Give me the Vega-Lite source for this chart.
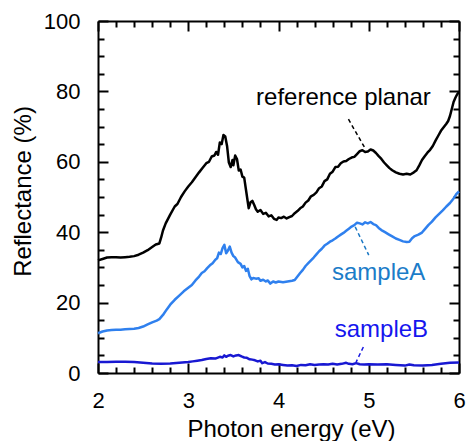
{
  "$schema": "https://vega.github.io/schema/vega-lite/v6.json",
  "width": 361,
  "height": 352,
  "autosize": "none",
  "padding": {"left": 98, "top": 21, "right": 10, "bottom": 68},
  "background": "white",
  "config": {
    "view": {"stroke": null},
    "axis": {
      "grid": false,
      "domainColor": "black",
      "tickColor": "black",
      "tickWidth": 2,
      "domainWidth": 2,
      "labelFont": "Liberation Sans",
      "titleFont": "Liberation Sans",
      "labelColor": "black",
      "titleColor": "black",
      "labelFontSize": 22,
      "titleFontSize": 24,
      "titleFontWeight": "normal"
    }
  },
  "datasets": {
    "planar": [
      {"series":"reference planar","E":2.00,"R":32.0},{"series":"reference planar","E":2.05,"R":32.4},{"series":"reference planar","E":2.10,"R":32.8},{"series":"reference planar","E":2.15,"R":32.9},{"series":"reference planar","E":2.20,"R":32.9},{"series":"reference planar","E":2.25,"R":32.8},{"series":"reference planar","E":2.30,"R":32.9},{"series":"reference planar","E":2.35,"R":33.0},{"series":"reference planar","E":2.40,"R":33.2},{"series":"reference planar","E":2.45,"R":33.6},{"series":"reference planar","E":2.50,"R":34.2},{"series":"reference planar","E":2.55,"R":34.9},{"series":"reference planar","E":2.60,"R":35.8},{"series":"reference planar","E":2.64,"R":36.5},{"series":"reference planar","E":2.68,"R":36.8},{"series":"reference planar","E":2.70,"R":38.5},{"series":"reference planar","E":2.72,"R":40.5},{"series":"reference planar","E":2.75,"R":42.5},{"series":"reference planar","E":2.80,"R":45.0},{"series":"reference planar","E":2.85,"R":47.3},{"series":"reference planar","E":2.88,"R":48.0},{"series":"reference planar","E":2.92,"R":50.0},{"series":"reference planar","E":2.96,"R":51.6},{"series":"reference planar","E":3.00,"R":53.0},{"series":"reference planar","E":3.04,"R":54.2},{"series":"reference planar","E":3.08,"R":55.6},{"series":"reference planar","E":3.12,"R":57.0},{"series":"reference planar","E":3.16,"R":58.3},{"series":"reference planar","E":3.20,"R":59.6},{"series":"reference planar","E":3.23,"R":60.0},{"series":"reference planar","E":3.26,"R":61.5},{"series":"reference planar","E":3.29,"R":61.8},{"series":"reference planar","E":3.31,"R":62.8},{"series":"reference planar","E":3.33,"R":62.0},{"series":"reference planar","E":3.35,"R":65.5},{"series":"reference planar","E":3.37,"R":65.0},{"series":"reference planar","E":3.39,"R":67.6},{"series":"reference planar","E":3.41,"R":67.2},{"series":"reference planar","E":3.43,"R":64.5},{"series":"reference planar","E":3.45,"R":59.8},{"series":"reference planar","E":3.47,"R":58.5},{"series":"reference planar","E":3.49,"R":60.5},{"series":"reference planar","E":3.50,"R":59.0},{"series":"reference planar","E":3.52,"R":61.8},{"series":"reference planar","E":3.54,"R":60.8},{"series":"reference planar","E":3.56,"R":57.5},{"series":"reference planar","E":3.58,"R":57.8},{"series":"reference planar","E":3.60,"R":55.8},{"series":"reference planar","E":3.62,"R":55.5},{"series":"reference planar","E":3.64,"R":52.0},{"series":"reference planar","E":3.66,"R":48.5},{"series":"reference planar","E":3.67,"R":46.8},{"series":"reference planar","E":3.69,"R":48.5},{"series":"reference planar","E":3.71,"R":48.9},{"series":"reference planar","E":3.73,"R":47.8},{"series":"reference planar","E":3.75,"R":46.5},{"series":"reference planar","E":3.77,"R":45.8},{"series":"reference planar","E":3.80,"R":46.3},{"series":"reference planar","E":3.83,"R":45.2},{"series":"reference planar","E":3.86,"R":45.5},{"series":"reference planar","E":3.89,"R":44.5},{"series":"reference planar","E":3.92,"R":44.8},{"series":"reference planar","E":3.95,"R":43.8},{"series":"reference planar","E":3.98,"R":43.5},{"series":"reference planar","E":4.00,"R":44.2},{"series":"reference planar","E":4.03,"R":44.0},{"series":"reference planar","E":4.06,"R":44.4},{"series":"reference planar","E":4.09,"R":43.9},{"series":"reference planar","E":4.12,"R":44.3},{"series":"reference planar","E":4.15,"R":44.6},{"series":"reference planar","E":4.18,"R":45.4},{"series":"reference planar","E":4.21,"R":46.0},{"series":"reference planar","E":4.24,"R":46.8},{"series":"reference planar","E":4.27,"R":47.3},{"series":"reference planar","E":4.30,"R":48.4},{"series":"reference planar","E":4.33,"R":49.0},{"series":"reference planar","E":4.36,"R":50.2},{"series":"reference planar","E":4.39,"R":50.6},{"series":"reference planar","E":4.42,"R":51.3},{"series":"reference planar","E":4.45,"R":52.5},{"series":"reference planar","E":4.48,"R":53.0},{"series":"reference planar","E":4.51,"R":54.5},{"series":"reference planar","E":4.54,"R":55.0},{"series":"reference planar","E":4.57,"R":56.6},{"series":"reference planar","E":4.60,"R":57.2},{"series":"reference planar","E":4.63,"R":58.5},{"series":"reference planar","E":4.66,"R":58.6},{"series":"reference planar","E":4.69,"R":59.6},{"series":"reference planar","E":4.72,"R":60.1},{"series":"reference planar","E":4.75,"R":60.2},{"series":"reference planar","E":4.78,"R":60.8},{"series":"reference planar","E":4.81,"R":61.2},{"series":"reference planar","E":4.84,"R":61.4},{"series":"reference planar","E":4.87,"R":62.2},{"series":"reference planar","E":4.90,"R":63.0},{"series":"reference planar","E":4.93,"R":63.3},{"series":"reference planar","E":4.96,"R":62.8},{"series":"reference planar","E":4.99,"R":62.9},{"series":"reference planar","E":5.02,"R":63.5},{"series":"reference planar","E":5.05,"R":63.2},{"series":"reference planar","E":5.08,"R":62.5},{"series":"reference planar","E":5.11,"R":61.6},{"series":"reference planar","E":5.14,"R":60.8},{"series":"reference planar","E":5.17,"R":59.8},{"series":"reference planar","E":5.20,"R":59.0},{"series":"reference planar","E":5.23,"R":58.2},{"series":"reference planar","E":5.26,"R":57.6},{"series":"reference planar","E":5.30,"R":57.0},{"series":"reference planar","E":5.34,"R":56.6},{"series":"reference planar","E":5.38,"R":56.4},{"series":"reference planar","E":5.42,"R":56.6},{"series":"reference planar","E":5.46,"R":56.4},{"series":"reference planar","E":5.50,"R":57.0},{"series":"reference planar","E":5.53,"R":57.6},{"series":"reference planar","E":5.56,"R":59.0},{"series":"reference planar","E":5.59,"R":60.5},{"series":"reference planar","E":5.62,"R":61.6},{"series":"reference planar","E":5.65,"R":62.6},{"series":"reference planar","E":5.68,"R":63.4},{"series":"reference planar","E":5.71,"R":64.5},{"series":"reference planar","E":5.74,"R":66.0},{"series":"reference planar","E":5.77,"R":67.4},{"series":"reference planar","E":5.80,"R":68.8},{"series":"reference planar","E":5.83,"R":69.8},{"series":"reference planar","E":5.86,"R":70.8},{"series":"reference planar","E":5.88,"R":71.6},{"series":"reference planar","E":5.90,"R":73.0},{"series":"reference planar","E":5.92,"R":75.0},{"series":"reference planar","E":5.94,"R":77.0},{"series":"reference planar","E":5.96,"R":78.2},{"series":"reference planar","E":5.98,"R":79.2},{"series":"reference planar","E":6.00,"R":79.8}
    ],
    "samples": [
      {"series":"sampleA","E":2.00,"R":11.3},{"series":"sampleA","E":2.05,"R":11.8},{"series":"sampleA","E":2.10,"R":12.1},{"series":"sampleA","E":2.15,"R":12.2},{"series":"sampleA","E":2.20,"R":12.3},{"series":"sampleA","E":2.25,"R":12.3},{"series":"sampleA","E":2.30,"R":12.4},{"series":"sampleA","E":2.35,"R":12.5},{"series":"sampleA","E":2.40,"R":12.6},{"series":"sampleA","E":2.45,"R":12.8},{"series":"sampleA","E":2.50,"R":13.2},{"series":"sampleA","E":2.55,"R":13.8},{"series":"sampleA","E":2.60,"R":14.4},{"series":"sampleA","E":2.65,"R":14.9},{"series":"sampleA","E":2.68,"R":15.3},{"series":"sampleA","E":2.72,"R":16.5},{"series":"sampleA","E":2.76,"R":18.0},{"series":"sampleA","E":2.80,"R":19.4},{"series":"sampleA","E":2.85,"R":20.8},{"series":"sampleA","E":2.90,"R":22.0},{"series":"sampleA","E":2.95,"R":23.2},{"series":"sampleA","E":3.00,"R":24.2},{"series":"sampleA","E":3.04,"R":25.0},{"series":"sampleA","E":3.08,"R":26.3},{"series":"sampleA","E":3.12,"R":27.4},{"series":"sampleA","E":3.15,"R":28.4},{"series":"sampleA","E":3.18,"R":28.9},{"series":"sampleA","E":3.21,"R":29.8},{"series":"sampleA","E":3.24,"R":30.6},{"series":"sampleA","E":3.27,"R":31.2},{"series":"sampleA","E":3.30,"R":32.2},{"series":"sampleA","E":3.32,"R":32.6},{"series":"sampleA","E":3.34,"R":34.2},{"series":"sampleA","E":3.36,"R":33.8},{"series":"sampleA","E":3.38,"R":35.5},{"series":"sampleA","E":3.40,"R":36.4},{"series":"sampleA","E":3.42,"R":34.0},{"series":"sampleA","E":3.44,"R":34.8},{"series":"sampleA","E":3.46,"R":35.9},{"series":"sampleA","E":3.48,"R":34.2},{"series":"sampleA","E":3.50,"R":33.2},{"series":"sampleA","E":3.52,"R":32.8},{"series":"sampleA","E":3.55,"R":31.5},{"series":"sampleA","E":3.58,"R":31.0},{"series":"sampleA","E":3.60,"R":30.0},{"series":"sampleA","E":3.62,"R":30.4},{"series":"sampleA","E":3.64,"R":29.0},{"series":"sampleA","E":3.66,"R":29.6},{"series":"sampleA","E":3.68,"R":27.5},{"series":"sampleA","E":3.70,"R":26.6},{"series":"sampleA","E":3.72,"R":27.0},{"series":"sampleA","E":3.75,"R":26.8},{"series":"sampleA","E":3.78,"R":26.9},{"series":"sampleA","E":3.80,"R":26.2},{"series":"sampleA","E":3.83,"R":26.5},{"series":"sampleA","E":3.86,"R":26.0},{"series":"sampleA","E":3.88,"R":26.3},{"series":"sampleA","E":3.91,"R":25.4},{"series":"sampleA","E":3.94,"R":26.0},{"series":"sampleA","E":3.97,"R":25.7},{"series":"sampleA","E":4.00,"R":26.0},{"series":"sampleA","E":4.05,"R":25.8},{"series":"sampleA","E":4.10,"R":26.0},{"series":"sampleA","E":4.15,"R":26.2},{"series":"sampleA","E":4.18,"R":26.4},{"series":"sampleA","E":4.21,"R":27.4},{"series":"sampleA","E":4.24,"R":28.4},{"series":"sampleA","E":4.27,"R":29.3},{"series":"sampleA","E":4.30,"R":30.4},{"series":"sampleA","E":4.33,"R":31.2},{"series":"sampleA","E":4.36,"R":32.0},{"series":"sampleA","E":4.39,"R":32.8},{"series":"sampleA","E":4.42,"R":33.7},{"series":"sampleA","E":4.45,"R":34.6},{"series":"sampleA","E":4.48,"R":35.3},{"series":"sampleA","E":4.51,"R":36.2},{"series":"sampleA","E":4.54,"R":36.7},{"series":"sampleA","E":4.57,"R":37.3},{"series":"sampleA","E":4.60,"R":37.7},{"series":"sampleA","E":4.63,"R":38.2},{"series":"sampleA","E":4.66,"R":38.8},{"series":"sampleA","E":4.69,"R":39.3},{"series":"sampleA","E":4.72,"R":39.8},{"series":"sampleA","E":4.75,"R":40.4},{"series":"sampleA","E":4.78,"R":41.0},{"series":"sampleA","E":4.81,"R":41.6},{"series":"sampleA","E":4.84,"R":42.0},{"series":"sampleA","E":4.87,"R":42.7},{"series":"sampleA","E":4.90,"R":42.5},{"series":"sampleA","E":4.93,"R":42.2},{"series":"sampleA","E":4.96,"R":42.8},{"series":"sampleA","E":4.99,"R":42.5},{"series":"sampleA","E":5.02,"R":42.9},{"series":"sampleA","E":5.05,"R":42.3},{"series":"sampleA","E":5.08,"R":42.0},{"series":"sampleA","E":5.11,"R":41.2},{"series":"sampleA","E":5.14,"R":40.6},{"series":"sampleA","E":5.18,"R":40.0},{"series":"sampleA","E":5.22,"R":39.4},{"series":"sampleA","E":5.26,"R":38.8},{"series":"sampleA","E":5.30,"R":38.2},{"series":"sampleA","E":5.34,"R":37.8},{"series":"sampleA","E":5.38,"R":37.4},{"series":"sampleA","E":5.42,"R":37.2},{"series":"sampleA","E":5.45,"R":37.3},{"series":"sampleA","E":5.48,"R":38.3},{"series":"sampleA","E":5.51,"R":38.9},{"series":"sampleA","E":5.55,"R":39.3},{"series":"sampleA","E":5.59,"R":39.9},{"series":"sampleA","E":5.62,"R":40.8},{"series":"sampleA","E":5.66,"R":42.0},{"series":"sampleA","E":5.70,"R":43.0},{"series":"sampleA","E":5.74,"R":44.2},{"series":"sampleA","E":5.78,"R":45.2},{"series":"sampleA","E":5.82,"R":46.2},{"series":"sampleA","E":5.86,"R":47.3},{"series":"sampleA","E":5.90,"R":48.3},{"series":"sampleA","E":5.94,"R":49.6},{"series":"sampleA","E":5.97,"R":50.8},{"series":"sampleA","E":6.00,"R":51.6},
      {"series":"sampleB","E":2.00,"R":3.1},{"series":"sampleB","E":2.10,"R":3.1},{"series":"sampleB","E":2.20,"R":3.2},{"series":"sampleB","E":2.30,"R":3.2},{"series":"sampleB","E":2.40,"R":3.1},{"series":"sampleB","E":2.50,"R":2.9},{"series":"sampleB","E":2.60,"R":2.7},{"series":"sampleB","E":2.70,"R":2.6},{"series":"sampleB","E":2.80,"R":2.7},{"series":"sampleB","E":2.90,"R":2.9},{"series":"sampleB","E":3.00,"R":3.1},{"series":"sampleB","E":3.05,"R":3.3},{"series":"sampleB","E":3.10,"R":3.5},{"series":"sampleB","E":3.15,"R":3.7},{"series":"sampleB","E":3.20,"R":4.0},{"series":"sampleB","E":3.25,"R":4.2},{"series":"sampleB","E":3.30,"R":4.1},{"series":"sampleB","E":3.35,"R":4.6},{"series":"sampleB","E":3.38,"R":4.4},{"series":"sampleB","E":3.40,"R":5.0},{"series":"sampleB","E":3.42,"R":4.6},{"series":"sampleB","E":3.44,"R":4.9},{"series":"sampleB","E":3.47,"R":5.1},{"series":"sampleB","E":3.50,"R":4.7},{"series":"sampleB","E":3.53,"R":5.0},{"series":"sampleB","E":3.56,"R":5.1},{"series":"sampleB","E":3.59,"R":4.7},{"series":"sampleB","E":3.62,"R":4.4},{"series":"sampleB","E":3.65,"R":4.3},{"series":"sampleB","E":3.68,"R":3.9},{"series":"sampleB","E":3.71,"R":3.8},{"series":"sampleB","E":3.74,"R":3.6},{"series":"sampleB","E":3.77,"R":3.3},{"series":"sampleB","E":3.80,"R":3.5},{"series":"sampleB","E":3.82,"R":2.8},{"series":"sampleB","E":3.85,"R":3.1},{"series":"sampleB","E":3.88,"R":2.7},{"series":"sampleB","E":3.92,"R":2.6},{"series":"sampleB","E":3.96,"R":2.4},{"series":"sampleB","E":4.00,"R":2.5},{"series":"sampleB","E":4.05,"R":2.3},{"series":"sampleB","E":4.10,"R":2.1},{"series":"sampleB","E":4.15,"R":2.2},{"series":"sampleB","E":4.20,"R":2.0},{"series":"sampleB","E":4.25,"R":2.3},{"series":"sampleB","E":4.30,"R":2.2},{"series":"sampleB","E":4.35,"R":2.5},{"series":"sampleB","E":4.40,"R":2.3},{"series":"sampleB","E":4.45,"R":2.4},{"series":"sampleB","E":4.50,"R":2.5},{"series":"sampleB","E":4.55,"R":2.4},{"series":"sampleB","E":4.60,"R":2.6},{"series":"sampleB","E":4.65,"R":2.4},{"series":"sampleB","E":4.70,"R":2.6},{"series":"sampleB","E":4.75,"R":2.9},{"series":"sampleB","E":4.78,"R":2.6},{"series":"sampleB","E":4.82,"R":2.5},{"series":"sampleB","E":4.86,"R":2.8},{"series":"sampleB","E":4.90,"R":2.5},{"series":"sampleB","E":4.95,"R":2.4},{"series":"sampleB","E":5.00,"R":2.5},{"series":"sampleB","E":5.10,"R":2.4},{"series":"sampleB","E":5.20,"R":2.5},{"series":"sampleB","E":5.30,"R":2.3},{"series":"sampleB","E":5.40,"R":2.1},{"series":"sampleB","E":5.45,"R":2.4},{"series":"sampleB","E":5.50,"R":2.2},{"series":"sampleB","E":5.60,"R":2.1},{"series":"sampleB","E":5.70,"R":2.3},{"series":"sampleB","E":5.80,"R":2.6},{"series":"sampleB","E":5.90,"R":2.9},{"series":"sampleB","E":6.00,"R":3.0}
    ],
    "notes": [
      {"series":"reference planar","tx":4.72,"ty":78.1,"x1":4.775,"y1":72.1,"x2":4.96,"y2":63.8},
      {"series":"sampleA","tx":5.11,"ty":28.4,"x1":4.85,"y1":41.5,"x2":5.0,"y2":33.5},
      {"series":"sampleB","tx":5.14,"ty":12.2,"x1":4.94,"y1":7.4,"x2":4.86,"y2":3.1}
    ]
  },
  "resolve": {"axis": {"x": "independent", "y": "independent"}},
  "layer": [
    {
      "data": {"name": "planar"},
      "mark": {"type": "line", "strokeWidth": 2.5, "strokeJoin": "round"},
      "encoding": {
        "x": {"field": "E", "type": "quantitative", "scale": {"domain": [2, 6], "nice": false, "zero": false},
          "axis": {"orient": "bottom", "values": [2, 3, 4, 5, 6], "format": "d", "tickSize": -10, "labelPadding": 27, "labelFlush": false, "title": "Photon energy (eV)", "titlePadding": 6, "titleX": 193}},
        "y": {"field": "R", "type": "quantitative", "scale": {"domain": [0, 100], "nice": false},
          "axis": {"orient": "left", "values": [0, 20, 40, 60, 80, 100], "format": "d", "tickSize": -10, "labelPadding": 28, "labelFlush": false, "title": "Reflectance (%)", "titlePadding": 8, "titleY": 170}},
        "color": {"field": "series", "type": "nominal", "legend": null,
          "scale": {"domain": ["reference planar", "sampleA", "sampleB"], "range": ["#000000", "#2f80ee", "#1818d2"]}}
      }
    },
    {
      "data": {"name": "samples"},
      "mark": {"type": "line", "strokeWidth": 2.5, "strokeJoin": "round"},
      "encoding": {
        "x": {"field": "E", "type": "quantitative", "scale": {"domain": [2, 6], "nice": false, "zero": false},
          "axis": {"orient": "top", "values": [2, 3, 4, 5, 6], "tickSize": -10, "labels": false, "title": null}},
        "y": {"field": "R", "type": "quantitative", "scale": {"domain": [0, 100], "nice": false},
          "axis": {"orient": "right", "values": [0, 20, 40, 60, 80, 100], "tickSize": -10, "labels": false, "title": null}},
        "color": {"field": "series", "type": "nominal", "legend": null,
          "scale": {"domain": ["reference planar", "sampleA", "sampleB"], "range": ["#000000", "#2f80ee", "#1818d2"]}}
      }
    },
    {
      "data": {"name": "notes"},
      "mark": {"type": "rule", "strokeWidth": 1.5, "strokeDash": [4, 3]},
      "encoding": {
        "x": {"field": "x1", "type": "quantitative", "scale": {"domain": [2, 6], "nice": false, "zero": false},
          "axis": {"orient": "bottom", "values": [2.2, 2.4, 2.6, 2.8, 3.2, 3.4, 3.6, 3.8, 4.2, 4.4, 4.6, 4.8, 5.2, 5.4, 5.6, 5.8], "tickSize": -6, "labels": false, "domain": false, "title": null}},
        "y": {"field": "y1", "type": "quantitative", "scale": {"domain": [0, 100], "nice": false},
          "axis": {"orient": "left", "values": [5, 10, 15, 25, 30, 35, 45, 50, 55, 65, 70, 75, 85, 90, 95], "tickSize": -6, "labels": false, "domain": false, "title": null}},
        "x2": {"field": "x2"},
        "y2": {"field": "y2"},
        "stroke": {"field": "series", "type": "nominal", "legend": null,
          "scale": {"domain": ["reference planar", "sampleA", "sampleB"], "range": ["#000000", "#1b78c4", "#1818e0"]}}
      }
    },
    {
      "data": {"name": "notes"},
      "mark": {"type": "text", "font": "Liberation Sans", "fontSize": 24, "baseline": "middle", "align": "center"},
      "encoding": {
        "x": {"field": "tx", "type": "quantitative", "scale": {"domain": [2, 6], "nice": false, "zero": false},
          "axis": {"orient": "top", "values": [2.2, 2.4, 2.6, 2.8, 3.2, 3.4, 3.6, 3.8, 4.2, 4.4, 4.6, 4.8, 5.2, 5.4, 5.6, 5.8], "tickSize": -6, "labels": false, "domain": false, "title": null}},
        "y": {"field": "ty", "type": "quantitative", "scale": {"domain": [0, 100], "nice": false},
          "axis": {"orient": "right", "values": [5, 10, 15, 25, 30, 35, 45, 50, 55, 65, 70, 75, 85, 90, 95], "tickSize": -6, "labels": false, "domain": false, "title": null}},
        "text": {"field": "series"},
        "fill": {"field": "series", "type": "nominal", "legend": null,
          "scale": {"domain": ["reference planar", "sampleA", "sampleB"], "range": ["#000000", "#1b7cc8", "#1616ee"]}}
      }
    }
  ]
}
